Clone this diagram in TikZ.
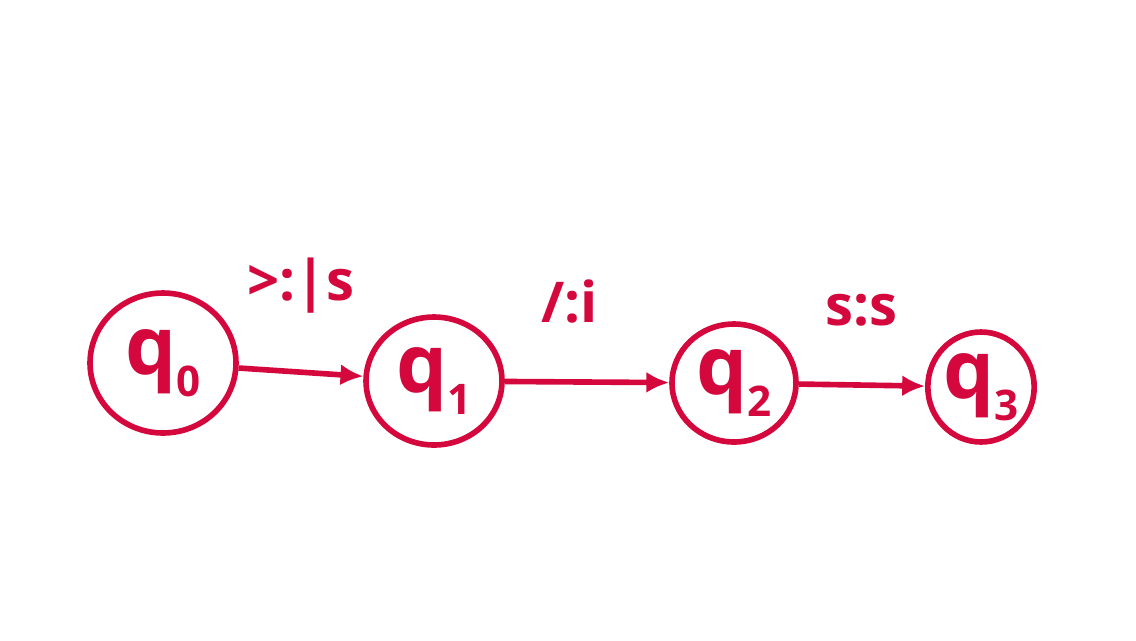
\documentclass[tikz,border=0pt]{standalone}
\usepackage{fontspec}
\setmainfont{Open Sans}
\usetikzlibrary{shapes.geometric,arrows.meta}
\definecolor{ink}{RGB}{212,8,60}
\newcommand{\stsub}[1]{\raisebox{-0.5ex}{\fontsize{24}{26}\selectfont #1}}

\begin{document}
\begin{tikzpicture}[x=0.02cm,y=-0.02cm,
	state/.style={ellipse, draw=ink, line width=3.2pt, text=ink, inner sep=0pt,
		font=\fontsize{46}{50}\selectfont\bfseries},
	trans/.style={draw=ink, line width=3.2pt, -{Latex[length=13pt,width=12pt]}},
	lab/.style={text=ink, font=\fontsize{32}{36}\selectfont\bfseries}]

	\fill[white] (0,0) rectangle (1136,640);
	\useasboundingbox (0,0) rectangle (1136,640);

	\node[state, minimum width=2.92cm, minimum height=2.80cm] (n0) at (163,363) {q\stsub{0}};
	\node[state, minimum width=2.72cm, minimum height=2.56cm] (n1) at (434,381) {q\stsub{1}};
	\node[state, minimum width=2.48cm, minimum height=2.36cm] (n2) at (734,383) {q\stsub{2}};
	\node[state, minimum width=1.94cm, minimum height=2.20cm] (n3) at (981,387) {q\stsub{3}};

	\foreach \i / \j / \t / \s in {
	0/1/{>:|s}/0,
	1/2/{/:i}/-0.35cm,
	2/3/{s:s}/0}
	{
		\path (n\i) edge[trans] node[lab, above=1.0cm, xshift=\s] {\t} (n\j);
	};
\end{tikzpicture}
\end{document}
